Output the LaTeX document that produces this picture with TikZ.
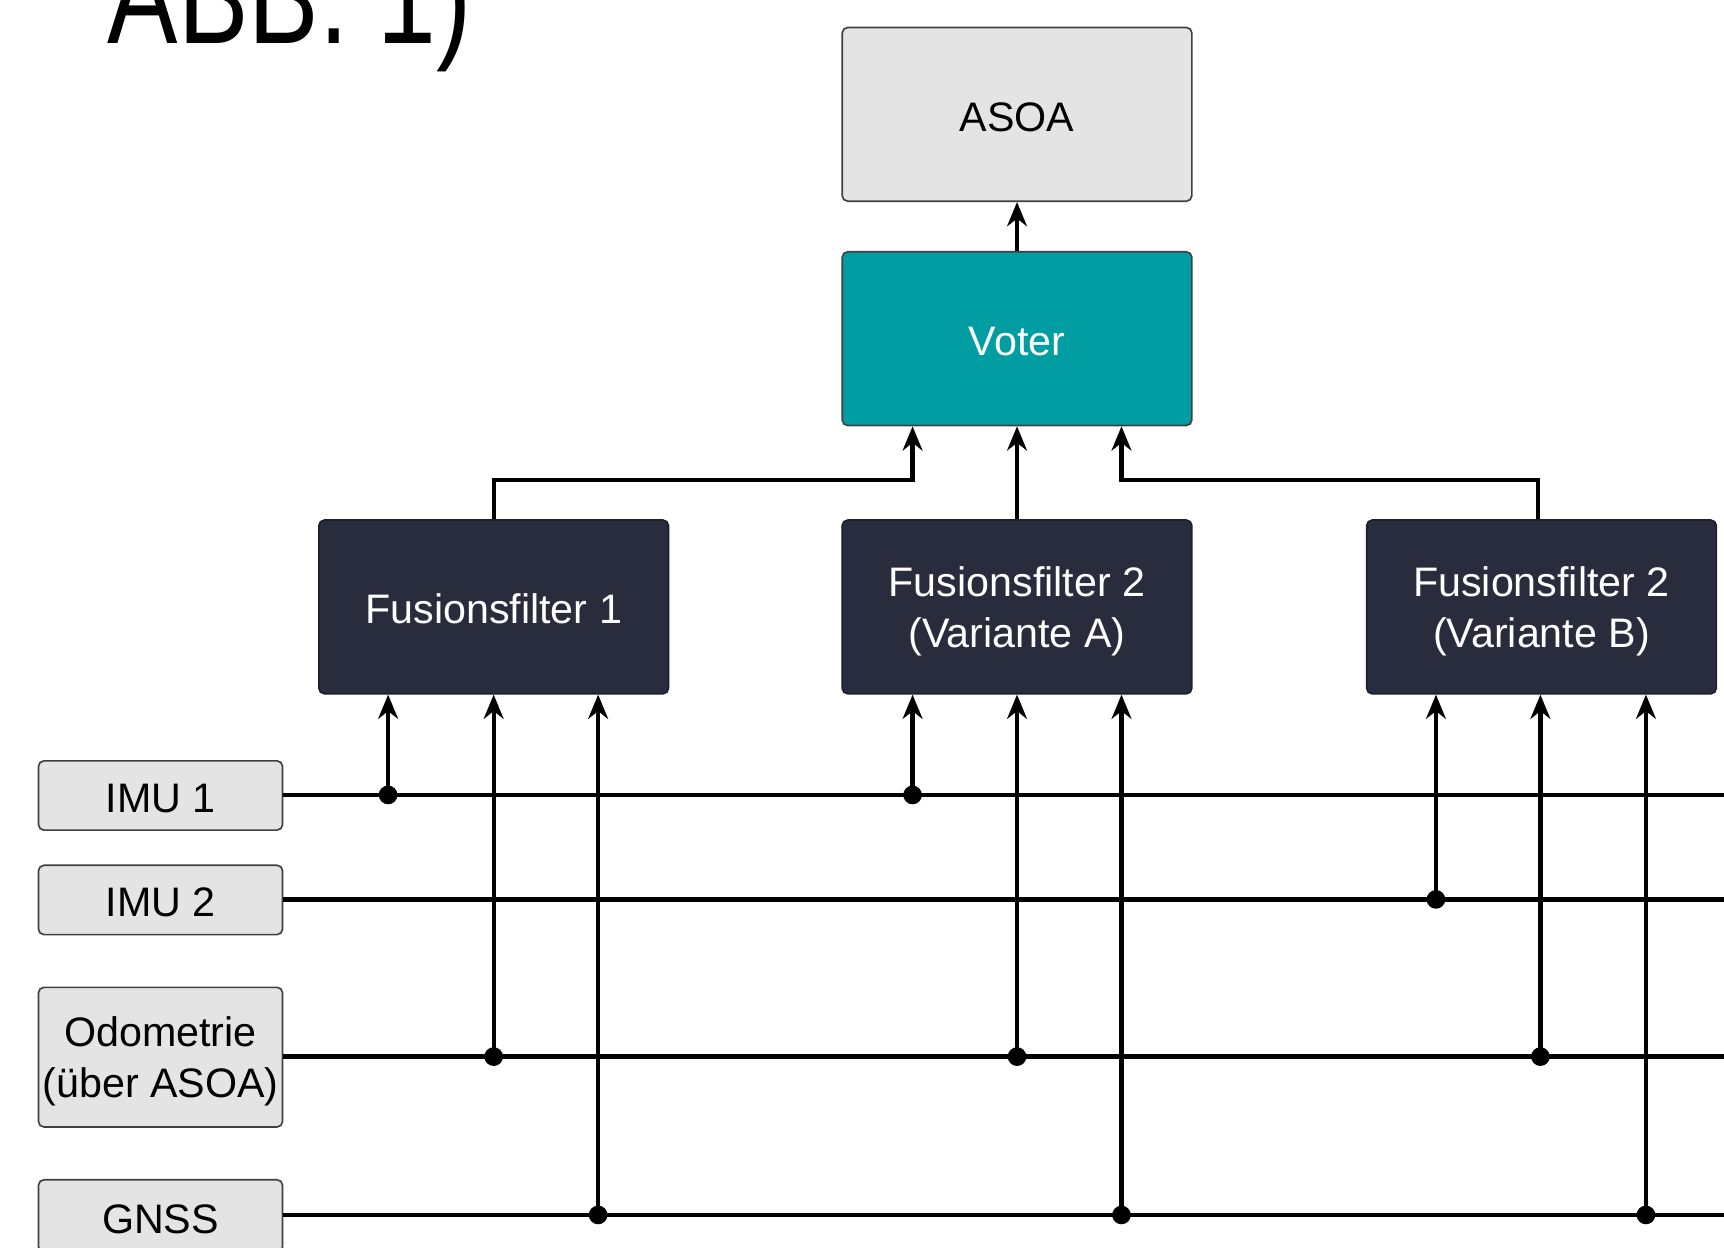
\documentclass[tikz,border=0pt]{standalone}
\usepackage{fontspec}
\usepackage{graphicx}
\setmainfont{Liberation Sans}
\usetikzlibrary{arrows.meta,calc}
\definecolor{boxgray}{HTML}{E4E4E4}
\definecolor{voterteal}{HTML}{009DA3}
\definecolor{ffdark}{HTML}{292C3C}
\definecolor{edgegray}{HTML}{404040}
\begin{document}
\begin{tikzpicture}[x=1pt,y=-1pt,
  basebox/.style={line width=1.5pt, rounded corners=5pt, align=center, inner sep=0pt,
    font=\fontsize{37.5}{47}\selectfont},
  oneline/.style={text height=31pt, text depth=0pt},
  twoline/.style={text depth=-1pt},
  lightbox/.style={basebox, draw=edgegray, fill=boxgray},
  tealbox/.style={basebox, draw=edgegray, fill=voterteal, text=white, minimum width=318pt, minimum height=158pt},
  darkbox/.style={basebox, draw=ffdark!70!black, fill=ffdark, text=white, minimum width=318pt, minimum height=158pt},
  srcbox/.style={lightbox, minimum width=222pt},
  wire/.style={line width=3.9pt},
  arr/.style={wire, -{Stealth[length=22pt,width=18pt,inset=7pt]}},
  jdot/.style={circle, fill=black, inner sep=0pt, minimum size=17pt}]
\clip (0,0) rectangle (1568,1135);
% title (cut off at top)
\node[anchor=base west, inner sep=0pt, font=\fontsize{96}{96}\selectfont] (title) at (98,40) {\scalebox{1}[1.3]{ABB. 1)}};
% main boxes
\node[lightbox, oneline, minimum width=318pt, minimum height=158pt] (asoa) at (925,104) {ASOA};
\node[tealbox, oneline] (voter) at (925,308) {Voter};
\node[darkbox, oneline] (ff1) at (449,552) {Fusionsfilter 1};
\node[darkbox, twoline] (ff2a) at (925,552) {Fusionsfilter 2\\(Variante A)};
\node[darkbox, twoline] (ff2b) at (1402,552) {Fusionsfilter 2\\(Variante B)};
% source boxes
\node[srcbox, oneline, minimum height=63pt] (imu1) at (146,723.5) {IMU 1};
\node[srcbox, oneline, minimum height=63pt] (imu2) at (146,818.5) {IMU 2};
\node[srcbox, twoline, minimum height=127pt] (odo) at (146,961.5) {Odometrie\\(über ASOA)};
\node[srcbox, oneline, minimum height=66pt] (gnss) at (146,1106) {GNSS};
% bus ends
\coordinate (e1) at (1572,723);
\coordinate (e2) at (1572,818);
\coordinate (e3) at (1572,961);
\coordinate (e4) at (1572,1105);
\draw[wire] (imu1.east |- e1) -- (e1);
\draw[wire] (imu2.east |- e2) -- (e2);
\draw[wire] (odo.east |- e3) -- (e3);
\draw[wire] (gnss.east |- e4) -- (e4);
% junction dots
\node[jdot] (a1) at (353,723) {};
\node[jdot] (a2) at (449,961) {};
\node[jdot] (a3) at (544,1105) {};
\node[jdot] (b1) at (830,723) {};
\node[jdot] (b2) at (925,961) {};
\node[jdot] (b3) at (1020,1105) {};
\node[jdot] (c1) at (1306,818) {};
\node[jdot] (c2) at (1401,961) {};
\node[jdot] (c3) at (1497,1105) {};
% inputs to filters
\foreach \d/\f in {a1/ff1,a2/ff1,a3/ff1,b1/ff2a,b2/ff2a,b3/ff2a,c1/ff2b,c2/ff2b,c3/ff2b}
  \draw[arr] (\d.center) -- (\f.south -| \d);
% filters to voter
\coordinate (vl) at ($(voter.south)+(-95,0)$);
\coordinate (vr) at ($(voter.south)+(95,0)$);
\draw[arr] (ff1.north) -- ++(0,-36) -| (vl);
\draw[arr] (ff2a.north) -- (voter.south);
\draw[arr] ($(ff2b.north)+(-3,0)$) -- ++(0,-36) -| (vr);
% voter to ASOA
\draw[arr] (voter.north) -- (asoa.south);
\end{tikzpicture}
\end{document}
